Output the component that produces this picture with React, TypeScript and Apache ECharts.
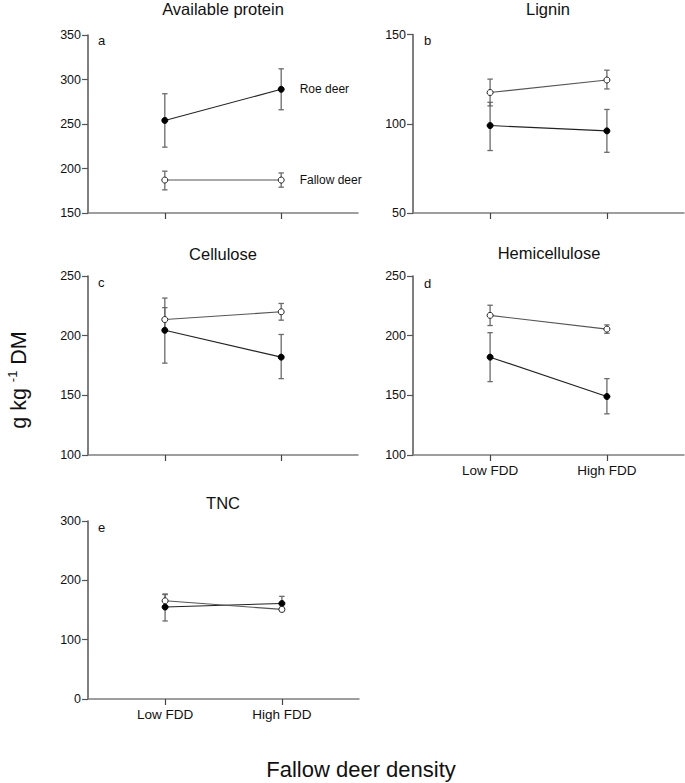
import React, { useEffect, useRef } from "react";
import * as echarts from "echarts";

const categories = ["Low FDD", "High FDD"];
const panelTitles = ["Available protein", "Lignin", "Cellulose", "Hemicellulose", "TNC"];
const panelLetters = ["a", "b", "c", "d", "e"];
const seriesNames = ["Roe deer", "Fallow deer"];

// mean values [Low FDD, High FDD]
const proteinRoe = [254, 289];
const proteinFallow = [187, 187];
const ligninRoe = [99, 96];
const ligninFallow = [117.5, 124.5];
const celluloseRoe = [204.5, 182];
const celluloseFallow = [213.5, 220];
const hemiRoe = [182, 149];
const hemiFallow = [217, 205.5];
const tncRoe = [155, 161];
const tncFallow = [165.5, 151];

// error bars [low, high] per category
const proteinRoeErr = [[224, 284], [266, 312]];
const proteinFallowErr = [[176, 197], [179, 195]];
const ligninRoeErr = [[85, 112], [84, 108]];
const ligninFallowErr = [[110, 125], [119.5, 130]];
const celluloseRoeErr = [[177, 231.5], [164, 201]];
const celluloseFallowErr = [[204, 223.5], [213, 227]];
const hemiRoeErr = [[161.5, 202.5], [134.5, 164]];
const hemiFallowErr = [[208.5, 225.5], [202, 209]];
const tncRoeErr = [[131.5, 177], [149, 173]];
const tncFallowErr = [[155, 176], [147.5, 154.5]];

// y axis ranges [min, max, interval]
const yRanges = [
  [150, 350, 50],
  [50, 150, 50],
  [100, 250, 50],
  [100, 250, 50],
  [0, 300, 100],
];

const FONT = "Liberation Sans, Arial, Helvetica, sans-serif";

const grids = [
  { left: 88, top: 35, width: 270, height: 178 },
  { left: 413, top: 34.5, width: 271, height: 178.5 },
  { left: 88, top: 276, width: 270, height: 179 },
  { left: 413, top: 276, width: 271, height: 179 },
  { left: 88, top: 521, width: 271, height: 178 },
];

const titlePos = [
  [223, 9],
  [548, 9],
  [223, 254],
  [549, 253],
  [223, 503],
];
const letterPos = [
  [98, 40],
  [424, 40],
  [98, 282],
  [424, 283],
  [98, 527],
];

export default function App() {
  const ref = useRef<HTMLDivElement>(null);

  useEffect(() => {
    if (!ref.current) return;
    const chart = echarts.init(ref.current, null, { renderer: "svg" });

    const roe = [proteinRoe, ligninRoe, celluloseRoe, hemiRoe, tncRoe];
    const fallow = [proteinFallow, ligninFallow, celluloseFallow, hemiFallow, tncFallow];
    const roeErr = [proteinRoeErr, ligninRoeErr, celluloseRoeErr, hemiRoeErr, tncRoeErr];
    const fallowErr = [proteinFallowErr, ligninFallowErr, celluloseFallowErr, hemiFallowErr, tncFallowErr];

    const showXLabels = [false, false, false, true, true];

    const xAxis = grids.map((_, i) => ({
      type: "value",
      gridIndex: i,
      min: 0.34,
      max: 2.66,
      splitLine: { show: false },
      axisLine: { show: true, onZero: false, lineStyle: { color: "#7f7f7f", width: 1.5 } },
      axisTick: {
        show: true,
        customValues: [1, 2],
        length: 6,
        lineStyle: { color: "#444", width: 1.2 },
      },
      axisLabel: {
        show: showXLabels[i],
        customValues: [1, 2],
        formatter: (v: number) => categories[Math.round(v) - 1] ?? "",
        color: "#111",
        fontSize: 13.5,
        fontFamily: FONT,
        margin: 8,
      },
    }));

    const yAxis = grids.map((_, i) => ({
      type: "value",
      gridIndex: i,
      min: yRanges[i][0],
      max: yRanges[i][1],
      interval: yRanges[i][2],
      splitLine: { show: false },
      axisLine: { show: true, onZero: false, lineStyle: { color: "#555", width: 1.5 } },
      axisTick: { show: true, length: 6, lineStyle: { color: "#555", width: 1.2 } },
      axisLabel: { color: "#111", fontSize: 12.5, fontFamily: FONT, margin: 7 },
    }));

    const errSeries = (data: number[][], i: number, name: string) => ({
      type: "custom",
      name,
      xAxisIndex: i,
      yAxisIndex: i,
      z: 1,
      encode: { x: 0, y: [1, 2] },
      data: data.map((d, k) => [k + 1, d[0], d[1]]),
      renderItem: (params: any, api: any) => {
        const x = api.value(0);
        const lo = api.coord([x, api.value(1)]);
        const hi = api.coord([x, api.value(2)]);
        const w = 2.7;
        const st = { stroke: "#6a6a6a", lineWidth: 1.3 };
        return {
          type: "group",
          children: [
            { type: "line", shape: { x1: lo[0], y1: lo[1], x2: hi[0], y2: hi[1] }, style: st },
            { type: "line", shape: { x1: lo[0] - w, y1: lo[1], x2: lo[0] + w, y2: lo[1] }, style: st },
            { type: "line", shape: { x1: hi[0] - w, y1: hi[1], x2: hi[0] + w, y2: hi[1] }, style: st },
          ],
        };
      },
    });

    const lineSeries = (vals: number[], i: number, filled: boolean) => {
      const name = filled ? seriesNames[0] : seriesNames[1];
      const data: any[] = vals.map((v, k) => [k + 1, v]);
      if (i === 0) {
        data[1] = {
          value: data[1],
          label: {
            show: true,
            position: "right",
            distance: 15,
            formatter: name,
            color: "#111",
            fontSize: 12,
            fontFamily: FONT,
          },
        };
      }
      return {
        type: "line",
        name,
        xAxisIndex: i,
        yAxisIndex: i,
        z: 3,
        data,
        symbol: "circle",
        symbolSize: 6,
        lineStyle: { color: filled ? "#222" : "#555", width: 1.1 },
        itemStyle: filled
          ? { color: "#000", borderColor: "#000", borderWidth: 1 }
          : { color: "#fff", borderColor: "#222", borderWidth: 1 },
      };
    };

    const series: any[] = [];
    grids.forEach((_, i) => {
      series.push(errSeries(roeErr[i], i, "Roe deer SE"));
      series.push(errSeries(fallowErr[i], i, "Fallow deer SE"));
      series.push(lineSeries(roe[i], i, true));
      series.push(lineSeries(fallow[i], i, false));
    });

    const graphics: any[] = [];
    panelTitles.forEach((t, i) => {
      graphics.push({
        type: "text",
        x: titlePos[i][0],
        y: titlePos[i][1],
        style: {
          text: t,
          fill: "#111",
          fontSize: 16.5,
          fontFamily: FONT,
          textAlign: "center",
          textVerticalAlign: "middle",
        },
      });
      graphics.push({
        type: "text",
        x: letterPos[i][0],
        y: letterPos[i][1],
        style: {
          text: panelLetters[i],
          fill: "#111",
          fontSize: 13,
          fontFamily: FONT,
          textAlign: "left",
          textVerticalAlign: "middle",
        },
      });
    });
    graphics.push({
      type: "text",
      x: 361,
      y: 769,
      style: {
        text: "Fallow deer density",
        fill: "#111",
        fontSize: 22,
        fontFamily: FONT,
        textAlign: "center",
        textVerticalAlign: "middle",
      },
    });
    graphics.push({
      type: "text",
      x: 19,
      y: 380,
      rotation: Math.PI / 2,
      style: {
        text: "g kg {sup|-1} DM",
        fill: "#111",
        fontSize: 21.5,
        fontFamily: FONT,
        textAlign: "center",
        textVerticalAlign: "middle",
        rich: {
          sup: { fontSize: 13, fontFamily: FONT, fill: "#111", verticalAlign: "top", lineHeight: 26 },
        },
      },
    });

    chart.setOption({
      animation: false,
      backgroundColor: "#fff",
      grid: grids.map((g) => ({ ...g, containLabel: false })),
      xAxis,
      yAxis,
      series,
      graphic: { elements: graphics },
    });

    return () => chart.dispose();
  }, []);

  return (
    <div
      ref={ref}
      style={{ position: "absolute", left: 0, top: 0, width: 685, height: 783, background: "#fff" }}
    />
  );
}
